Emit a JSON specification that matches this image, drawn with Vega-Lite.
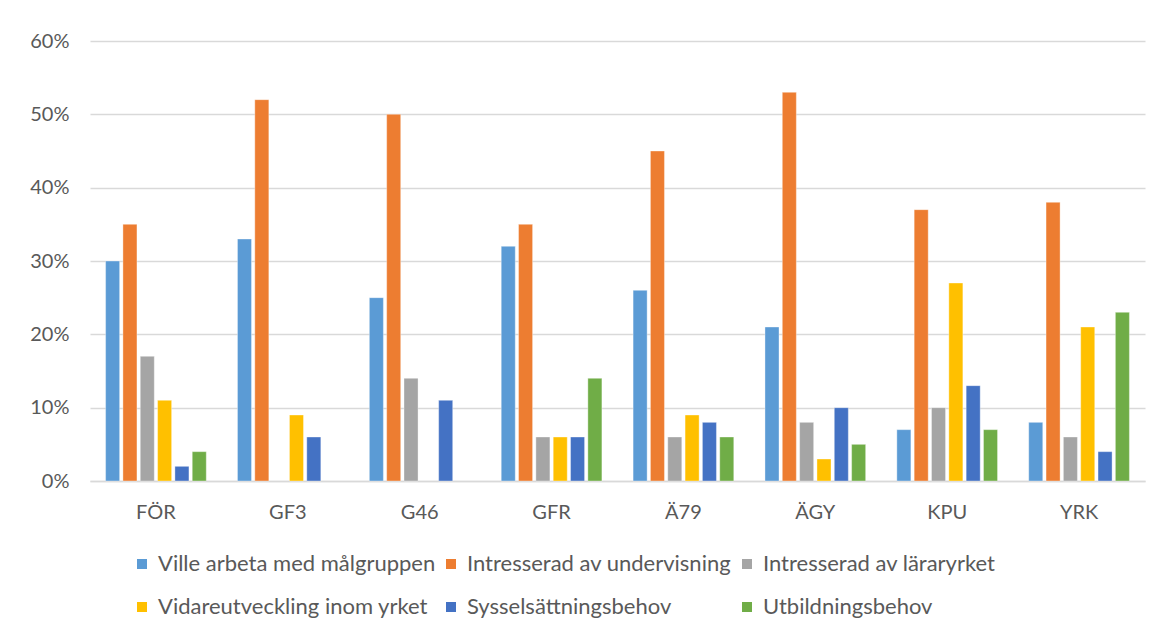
{
  "$schema": "https://vega.github.io/schema/vega-lite/v6.json",
  "width": 1055,
  "height": 440,
  "autosize": {"type": "none"},
  "padding": {"left": 90, "top": 41, "right": 15, "bottom": 154},
  "background": "white",
  "config": {
    "font": "Lato",
    "view": {"stroke": null},
    "axis": {"labelFont": "Lato", "labelColor": "#595959", "labelFontSize": 20}
  },
  "data": {
    "values": [
      {"grupp": "FÖR", "serie": "Ville arbeta med målgruppen", "andel": 0.30},
      {"grupp": "FÖR", "serie": "Intresserad av undervisning", "andel": 0.35},
      {"grupp": "FÖR", "serie": "Intresserad av läraryrket", "andel": 0.17},
      {"grupp": "FÖR", "serie": "Vidareutveckling inom yrket", "andel": 0.11},
      {"grupp": "FÖR", "serie": "Sysselsättningsbehov", "andel": 0.02},
      {"grupp": "FÖR", "serie": "Utbildningsbehov", "andel": 0.04},
      {"grupp": "GF3", "serie": "Ville arbeta med målgruppen", "andel": 0.33},
      {"grupp": "GF3", "serie": "Intresserad av undervisning", "andel": 0.52},
      {"grupp": "GF3", "serie": "Vidareutveckling inom yrket", "andel": 0.09},
      {"grupp": "GF3", "serie": "Sysselsättningsbehov", "andel": 0.06},
      {"grupp": "G46", "serie": "Ville arbeta med målgruppen", "andel": 0.25},
      {"grupp": "G46", "serie": "Intresserad av undervisning", "andel": 0.50},
      {"grupp": "G46", "serie": "Intresserad av läraryrket", "andel": 0.14},
      {"grupp": "G46", "serie": "Sysselsättningsbehov", "andel": 0.11},
      {"grupp": "GFR", "serie": "Ville arbeta med målgruppen", "andel": 0.32},
      {"grupp": "GFR", "serie": "Intresserad av undervisning", "andel": 0.35},
      {"grupp": "GFR", "serie": "Intresserad av läraryrket", "andel": 0.06},
      {"grupp": "GFR", "serie": "Vidareutveckling inom yrket", "andel": 0.06},
      {"grupp": "GFR", "serie": "Sysselsättningsbehov", "andel": 0.06},
      {"grupp": "GFR", "serie": "Utbildningsbehov", "andel": 0.14},
      {"grupp": "Ä79", "serie": "Ville arbeta med målgruppen", "andel": 0.26},
      {"grupp": "Ä79", "serie": "Intresserad av undervisning", "andel": 0.45},
      {"grupp": "Ä79", "serie": "Intresserad av läraryrket", "andel": 0.06},
      {"grupp": "Ä79", "serie": "Vidareutveckling inom yrket", "andel": 0.09},
      {"grupp": "Ä79", "serie": "Sysselsättningsbehov", "andel": 0.08},
      {"grupp": "Ä79", "serie": "Utbildningsbehov", "andel": 0.06},
      {"grupp": "ÄGY", "serie": "Ville arbeta med målgruppen", "andel": 0.21},
      {"grupp": "ÄGY", "serie": "Intresserad av undervisning", "andel": 0.53},
      {"grupp": "ÄGY", "serie": "Intresserad av läraryrket", "andel": 0.08},
      {"grupp": "ÄGY", "serie": "Vidareutveckling inom yrket", "andel": 0.03},
      {"grupp": "ÄGY", "serie": "Sysselsättningsbehov", "andel": 0.10},
      {"grupp": "ÄGY", "serie": "Utbildningsbehov", "andel": 0.05},
      {"grupp": "KPU", "serie": "Ville arbeta med målgruppen", "andel": 0.07},
      {"grupp": "KPU", "serie": "Intresserad av undervisning", "andel": 0.37},
      {"grupp": "KPU", "serie": "Intresserad av läraryrket", "andel": 0.10},
      {"grupp": "KPU", "serie": "Vidareutveckling inom yrket", "andel": 0.27},
      {"grupp": "KPU", "serie": "Sysselsättningsbehov", "andel": 0.13},
      {"grupp": "KPU", "serie": "Utbildningsbehov", "andel": 0.07},
      {"grupp": "YRK", "serie": "Ville arbeta med målgruppen", "andel": 0.08},
      {"grupp": "YRK", "serie": "Intresserad av undervisning", "andel": 0.38},
      {"grupp": "YRK", "serie": "Intresserad av läraryrket", "andel": 0.06},
      {"grupp": "YRK", "serie": "Vidareutveckling inom yrket", "andel": 0.21},
      {"grupp": "YRK", "serie": "Sysselsättningsbehov", "andel": 0.04},
      {"grupp": "YRK", "serie": "Utbildningsbehov", "andel": 0.23}
    ]
  },
  "mark": {"type": "bar", "stroke": "#ffffff", "strokeWidth": 0.6, "strokeOpacity": 0.6},
  "encoding": {
    "x": {
      "field": "grupp",
      "type": "nominal",
      "sort": ["FÖR", "GF3", "G46", "GFR", "Ä79", "ÄGY", "KPU", "YRK"],
      "scale": {"paddingInner": 0, "paddingOuter": 0},
      "axis": {
        "title": null,
        "labelAngle": 0,
        "ticks": false,
        "domainColor": "#d9d9d9",
        "domainWidth": 1.5,
        "labelPadding": 21,
        "grid": false
      }
    },
    "xOffset": {
      "field": "serie",
      "type": "nominal",
      "scale": {
        "domain": ["Ville arbeta med målgruppen", "Intresserad av undervisning", "Intresserad av läraryrket", "Vidareutveckling inom yrket", "Sysselsättningsbehov", "Utbildningsbehov"],
        "paddingInner": 0.19,
        "paddingOuter": 0.9
      }
    },
    "y": {
      "field": "andel",
      "type": "quantitative",
      "scale": {"domain": [0, 0.6], "nice": false},
      "axis": {
        "title": null,
        "format": ".0%",
        "values": [0, 0.1, 0.2, 0.3, 0.4, 0.5, 0.6],
        "ticks": false,
        "domain": false,
        "gridColor": "#d9d9d9",
        "gridWidth": 1.5,
        "labelPadding": 21
      }
    },
    "color": {
      "field": "serie",
      "type": "nominal",
      "scale": {
        "domain": ["Ville arbeta med målgruppen", "Intresserad av undervisning", "Intresserad av läraryrket", "Vidareutveckling inom yrket", "Sysselsättningsbehov", "Utbildningsbehov"],
        "range": ["#5B9BD5", "#ED7D31", "#A5A5A5", "#FFC000", "#4472C4", "#70AD47"]
      },
      "legend": {
        "title": null,
        "orient": "none",
        "legendX": 41,
        "legendY": 512,
        "direction": "horizontal",
        "columns": 3,
        "symbolType": "square",
        "symbolSize": 100,
        "symbolStrokeWidth": 0,
        "labelFont": "Lato",
        "labelFontSize": 22,
        "labelColor": "#595959",
        "labelOffset": 5,
        "columnPadding": 4,
        "rowPadding": 21,
        "padding": 0,
        "labelLimit": 400
      }
    }
  }
}
